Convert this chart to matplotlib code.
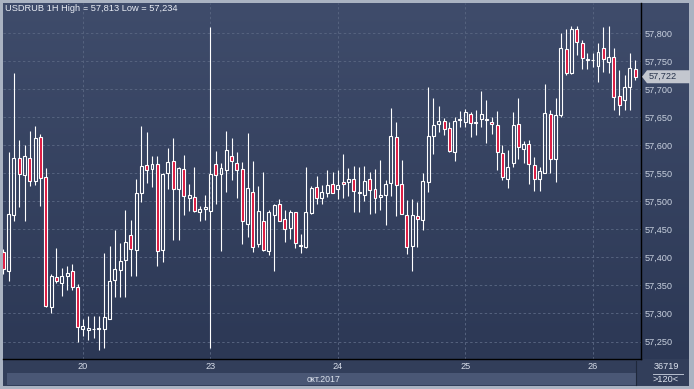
import numpy as np
import matplotlib
matplotlib.use('Agg')
import matplotlib.pyplot as plt
import matplotlib.transforms as mtransforms
from matplotlib.patches import Rectangle, Polygon
from matplotlib.collections import LineCollection
from matplotlib.colors import LinearSegmentedColormap

plt.rcParams['font.family'] = ['Liberation Sans', 'DejaVu Sans']

# chart texts
title = 'USDRUB 1H High = 57,813 Low = 57,234'
day_labels = ['20', '23', '24', '25', '26']
day_index = [15, 39, 63, 87, 111]
month_label = 'окт.2017'
volume_text = '36719'
bars_text = '>120<'
price_ticks = [57.25, 57.30, 57.35, 57.40, 57.45, 57.50, 57.55, 57.60, 57.65, 57.70, 57.75, 57.80]

# hourly candles
opens = [57.410, 57.376, 57.475, 57.578, 57.546, 57.578, 57.537, 57.614, 57.543, 57.312,
         57.365, 57.355, 57.367, 57.375, 57.347, 57.273, 57.270, 57.273, 57.272, 57.273,
         57.291, 57.360, 57.377, 57.395, 57.439, 57.414, 57.514, 57.564, 57.557, 57.566,
         57.414, 57.550, 57.571, 57.521, 57.557, 57.506, 57.508, 57.481, 57.486, 57.483,
         57.566, 57.548, 57.555, 57.580, 57.568, 57.557, 57.460, 57.516, 57.424, 57.464,
         57.411, 57.476, 57.496, 57.468, 57.452, 57.480, 57.421, 57.419, 57.479, 57.525,
         57.506, 57.515, 57.530, 57.521, 57.534, 57.535, 57.539, 57.515, 57.511, 57.539,
         57.522, 57.507, 57.512, 57.532, 57.614, 57.530, 57.475, 57.420, 57.473, 57.467,
         57.535, 57.617, 57.637, 57.644, 57.630, 57.587, 57.645, 57.641, 57.656, 57.642,
         57.646, 57.645, 57.641, 57.636, 57.586, 57.539, 57.568, 57.638, 57.594, 57.603,
         57.564, 57.540, 57.551, 57.655, 57.575, 57.654, 57.771, 57.728, 57.807, 57.783,
         57.752, 57.752, 57.741, 57.774, 57.748, 57.758, 57.688, 57.681, 57.704, 57.735]
highs = [57.415, 57.588, 57.729, 57.609, 57.600, 57.625, 57.634, 57.620, 57.560, 57.370,
         57.416, 57.381, 57.385, 57.388, 57.352, 57.290, 57.296, 57.296, 57.296, 57.408,
         57.420, 57.448, 57.425, 57.484, 57.467, 57.540, 57.634, 57.624, 57.581, 57.581,
         57.551, 57.595, 57.613, 57.561, 57.583, 57.531, 57.561, 57.492, 57.511, 57.810,
         57.590, 57.569, 57.625, 57.612, 57.587, 57.570, 57.621, 57.571, 57.527, 57.552,
         57.484, 57.495, 57.504, 57.484, 57.484, 57.480, 57.442, 57.561, 57.527, 57.545,
         57.529, 57.556, 57.553, 57.556, 57.584, 57.559, 57.563, 57.561, 57.563, 57.553,
         57.558, 57.574, 57.538, 57.666, 57.641, 57.574, 57.502, 57.504, 57.499, 57.551,
         57.704, 57.684, 57.670, 57.648, 57.642, 57.650, 57.661, 57.664, 57.660, 57.663,
         57.697, 57.681, 57.651, 57.661, 57.600, 57.591, 57.660, 57.684, 57.607, 57.609,
         57.579, 57.562, 57.709, 57.663, 57.684, 57.800, 57.808, 57.813, 57.813, 57.787,
         57.765, 57.764, 57.783, 57.811, 57.813, 57.774, 57.734, 57.726, 57.764, 57.751]
lows = [57.370, 57.358, 57.464, 57.489, 57.464, 57.528, 57.529, 57.492, 57.312, 57.300,
        57.354, 57.332, 57.342, 57.342, 57.250, 57.260, 57.253, 57.256, 57.234, 57.238,
        57.290, 57.330, 57.330, 57.330, 57.366, 57.367, 57.499, 57.533, 57.526, 57.385,
        57.392, 57.522, 57.431, 57.431, 57.476, 57.483, 57.480, 57.464, 57.467, 57.238,
        57.495, 57.412, 57.517, 57.538, 57.505, 57.424, 57.436, 57.410, 57.419, 57.412,
        57.404, 57.376, 57.464, 57.427, 57.432, 57.416, 57.407, 57.417, 57.477, 57.496,
        57.496, 57.508, 57.514, 57.504, 57.505, 57.510, 57.481, 57.481, 57.501, 57.477,
        57.479, 57.484, 57.458, 57.510, 57.473, 57.477, 57.406, 57.375, 57.419, 57.449,
        57.517, 57.584, 57.624, 57.618, 57.587, 57.571, 57.633, 57.633, 57.615, 57.618,
        57.632, 57.604, 57.620, 57.556, 57.538, 57.523, 57.562, 57.575, 57.568, 57.531,
        57.519, 57.519, 57.550, 57.550, 57.535, 57.651, 57.726, 57.727, 57.761, 57.735,
        57.735, 57.740, 57.713, 57.731, 57.728, 57.663, 57.653, 57.663, 57.663, 57.717]
closes = [57.379, 57.477, 57.577, 57.548, 57.580, 57.537, 57.612, 57.541, 57.314, 57.367,
          57.357, 57.366, 57.372, 57.348, 57.275, 57.277, 57.274, 57.273, 57.274, 57.294,
          57.357, 57.379, 57.394, 57.427, 57.415, 57.514, 57.563, 57.555, 57.566, 57.412,
          57.549, 57.570, 57.521, 57.559, 57.509, 57.511, 57.483, 57.486, 57.489, 57.548,
          57.546, 57.559, 57.591, 57.571, 57.555, 57.464, 57.523, 57.419, 57.482, 57.413,
          57.480, 57.493, 57.465, 57.450, 57.480, 57.425, 57.422, 57.480, 57.523, 57.505,
          57.517, 57.529, 57.515, 57.529, 57.530, 57.539, 57.518, 57.516, 57.537, 57.520,
          57.505, 57.511, 57.530, 57.616, 57.529, 57.477, 57.418, 57.475, 57.468, 57.537,
          57.616, 57.636, 57.643, 57.628, 57.589, 57.643, 57.647, 57.660, 57.639, 57.640,
          57.656, 57.646, 57.637, 57.587, 57.543, 57.561, 57.636, 57.596, 57.602, 57.566,
          57.539, 57.554, 57.657, 57.575, 57.654, 57.773, 57.729, 57.807, 57.784, 57.755,
          57.753, 57.752, 57.766, 57.754, 57.757, 57.686, 57.671, 57.703, 57.737, 57.722]

W, H = 694, 389
fig = plt.figure(figsize=(W / 100, H / 100), dpi=100)
fig.patch.set_facecolor('#aab3c2')

# panel backgrounds, drawn in figure pixels
bg = fig.add_axes([0, 0, 1, 1])
bg.set_xlim(0, W)
bg.set_ylim(H, 0)
bg.axis('off')
cmap = LinearSegmentedColormap.from_list('bg', ['#3f4c6b', '#2c3855'])
grad = np.linspace(0, 1, 256).reshape(-1, 1)
bg.imshow(grad, cmap=cmap, extent=(3, 689, 359, 3), aspect='auto', interpolation='bilinear')
bg.add_patch(Rectangle((3, 359), 686, 27, color='#323e5a', lw=0))
bg.add_patch(Rectangle((7, 372.5), 629, 12.5, color='#4a5775', lw=0))
bg.plot([636.5, 636.5], [361, 385], color='#1f283b', lw=0.8)
bg.text(5, 8.5, title, color='#e8ecf4', fontsize=6.7, va='center', ha='left')
bg.text(324, 379, month_label, color='#dde3ee', fontsize=6.3, va='center', ha='center')
bg.text(666, 366.5, volume_text, color='#dde3ee', fontsize=6.6, va='center', ha='center')
bg.plot([653, 683], [373.5, 373.5], color='#b8c0cf', lw=0.7)
bg.text(666, 380, bars_text, color='#dde3ee', fontsize=6.6, va='center', ha='center')

# price chart
ax = fig.add_axes([3 / W, 30 / H, 638 / W, 356 / H])
ax.patch.set_alpha(0)
ax.set_xlim(-0.06, 120.1)
ax.set_ylim(57.2188, 57.8535)
for s in ['left', 'top']:
    ax.spines[s].set_visible(False)
for s in ['right', 'bottom']:
    ax.spines[s].set_color('black')
    ax.spines[s].set_linewidth(1.0)

ax.yaxis.tick_right()
ax.set_yticks(price_ticks)
ax.set_yticklabels([f'{v:.3f}'.replace('.', ',') for v in price_ticks])
ax.set_xticks(day_index)
ax.set_xticklabels(day_labels)
ax.tick_params(axis='y', length=0, pad=2.5, labelsize=6.6, labelcolor='#c9d1df')
ax.tick_params(axis='x', length=0, pad=2.5, labelsize=6.6, labelcolor='#d6dce8')
ax.grid(True, color='#56637f', linestyle=(0, (2.5, 2.5)), linewidth=0.7)
ax.set_axisbelow(True)

bw = 0.56
wicks = []
for i, (o, h, l, c) in enumerate(zip(opens, highs, lows, closes)):
    top, bot = max(o, c), min(o, c)
    wicks.append([(i, top), (i, h)])
    wicks.append([(i, l), (i, bot)])
    face = '#dc143c' if c < o else 'none'
    ax.add_patch(Rectangle((i - bw / 2, bot), bw, max(top - bot, 1e-4),
                           facecolor=face, edgecolor='white', lw=0.8, zorder=3))
ax.add_collection(LineCollection(wicks, colors='white', linewidths=0.8, zorder=2))

# last price marker on the price scale
last = closes[-1]
trans = mtransforms.blended_transform_factory(ax.transAxes, ax.transData)
dy = (57.8535 - 57.2188) / 356 * 6.5
px = 1 / 638
marker = Polygon([(1 + 1 * px, last), (1 + 6 * px, last + dy), (1 + 49 * px, last + dy),
                  (1 + 49 * px, last - dy), (1 + 6 * px, last - dy)], closed=True,
                 transform=trans, facecolor='#c3c7cf', edgecolor='none', clip_on=False, zorder=5)
ax.add_patch(marker)
ax.text(1 + 8 * px, last, f'{last:.3f}'.replace('.', ','), transform=trans, color='#26324a',
        fontsize=6.6, va='center', ha='left', clip_on=False, zorder=6)

fig.savefig('out.png', dpi=100, facecolor=fig.get_facecolor())
